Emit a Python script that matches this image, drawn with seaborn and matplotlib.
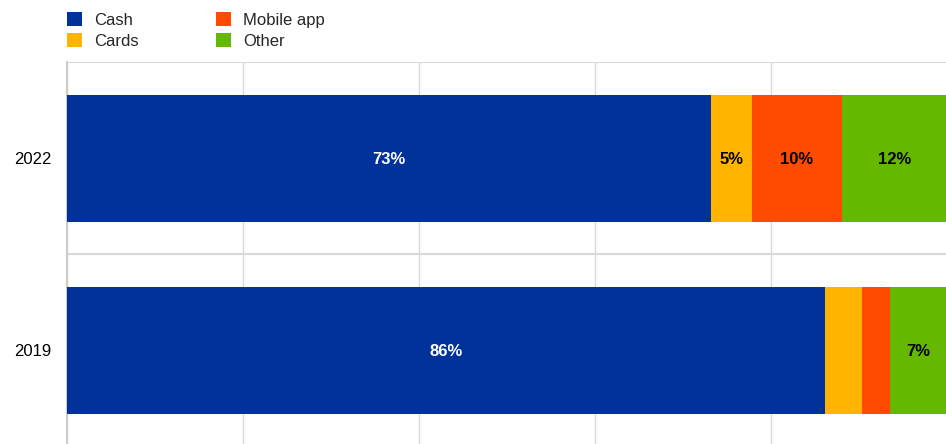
import matplotlib
matplotlib.use("Agg")
import matplotlib.pyplot as plt
import seaborn as sns
import pandas as pd
import numpy as np
from matplotlib.patches import Patch

years = ["2022", "2019"]
categories = ["Cash", "Cards", "Mobile app", "Other"]
cash = [73.2, 86.1]
cards = [4.6, 4.2]
mobile = [10.3, 3.2]
other = [11.9, 6.5]
labels_2022 = ["73%", "5%", "10%", "12%"]
labels_2019 = ["86%", "", "", "7%"]
colors = ["#003299", "#FFB400", "#FF4B00", "#65B800"]
label_colors = ["white", "black", "black", "black"]

sns.set_theme(style="white")
plt.rcParams['font.family'] = ['Liberation Sans', 'DejaVu Sans']

series = [cash, cards, mobile, other]
cum = np.cumsum(np.array(series), axis=0)  # shape (4, 2)

fig = plt.figure(figsize=(9.46, 4.44), dpi=100)
ax = fig.add_axes([67/946, -2.5/444, 880/946, 384.5/444])

# draw stacked bars: largest cumulative first, then overlay smaller
for i in range(len(categories) - 1, -1, -1):
    df = pd.DataFrame({"year": years, "value": cum[i]})
    sns.barplot(data=df, x="value", y="year", orient="h", color=colors[i],
                saturation=1, width=0.66, ax=ax, order=years, zorder=3,
                linewidth=0)

all_labels = [labels_2022, labels_2019]
for j, yr in enumerate(years):
    for i in range(len(categories)):
        lab = all_labels[j][i]
        if lab:
            center = cum[i][j] - series[i][j] / 2
            ax.text(center, j, lab, ha="center", va="center_baseline", fontsize=12,
                    fontweight="bold", color=label_colors[i], zorder=5)

ax.set_xlim(0, 100)
ax.set_ylim(1.5, -0.5)
ax.set_xticks([0, 20, 40, 60, 80, 100])
ax.set_xticklabels([])
ax.set_yticks([-0.5, 0.5], minor=True)
ax.grid(True, axis="x", color="#d9d9d9", linewidth=1, zorder=0)
ax.grid(True, axis="y", which="minor", color="#d9d9d9", linewidth=1.5, zorder=0)
ax.grid(False, axis="y", which="major")
ax.set_xlabel("")
ax.set_ylabel("")
for s in ["top", "right", "bottom"]:
    ax.spines[s].set_visible(False)
ax.spines["left"].set_color("#cccccc")
ax.spines["left"].set_linewidth(1.5)
ax.tick_params(axis="y", which="both", length=0, labelsize=12, pad=11, labelcolor="black")
ax.tick_params(axis="x", length=0)

handles = [Patch(facecolor=colors[i], edgecolor="none", label=categories[i]) for i in range(4)]
fig.legend(handles=handles, ncol=2, loc="upper left",
           bbox_to_anchor=(67/946, 1 - 12/444), frameon=False, fontsize=12,
           handlelength=0.9, handleheight=0.9, handletextpad=0.75,
           columnspacing=4.6, labelspacing=0.33, borderpad=0, borderaxespad=0)

fig.savefig("out.png", dpi=100)
